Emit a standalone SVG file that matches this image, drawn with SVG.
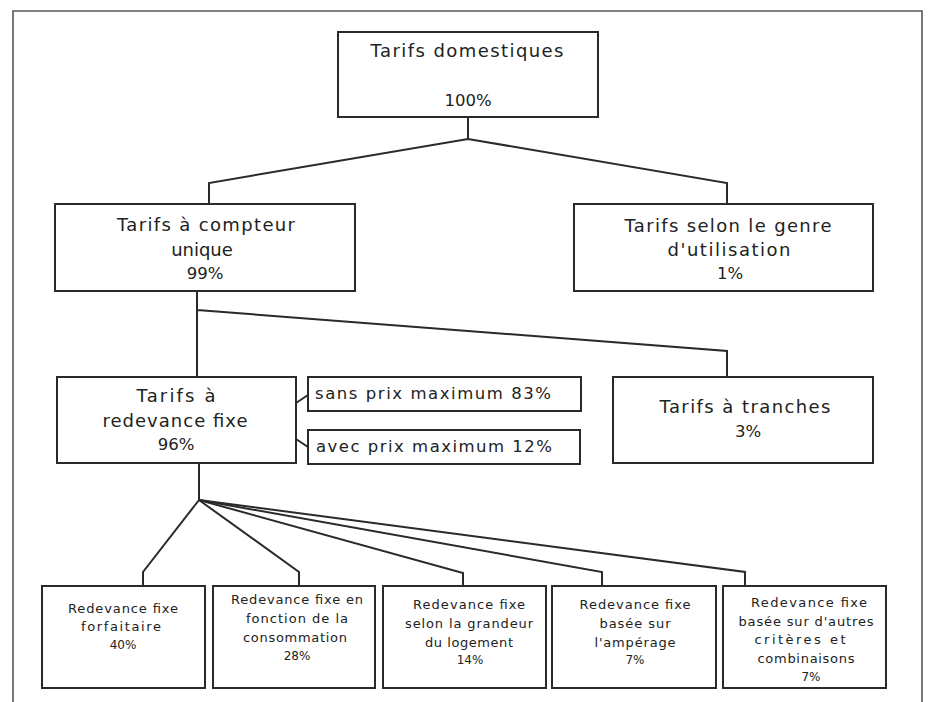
<svg xmlns="http://www.w3.org/2000/svg" width="928" height="702" viewBox="0 0 928 702">
<style>
  .frame { fill: none; stroke: #555; stroke-width: 1.6; }
  .box { fill: #fff; stroke: #2a2a2a; stroke-width: 2; }
  .conn { fill: none; stroke: #2a2a2a; stroke-width: 2; stroke-linejoin: miter; }
  text { font-family: "DejaVu Sans", "Liberation Sans", sans-serif; fill: #222; text-anchor: middle; }
  .lg { font-size: 18px; }
  .md { font-size: 16.5px; text-anchor: start; }
  .sm { font-size: 13px; }
  .pc { font-size: 16.5px; }
  .spc { font-size: 12px; }
</style>
<rect x="0" y="0" width="928" height="702" fill="#fff"/>
<path class="frame" d="M13,712 L13,11 L922,11 L922,712"/>

<g id="connectors">
  <path class="conn" d="M468,117 L468,139 M209,204 L209,183 L468,139 L727,183 L727,204"/>
  <path class="conn" d="M197,291 L197,377 M197,310 L727,351 L727,377"/>
  <path class="conn" d="M296,403 L308,395 M296,439 L308,447"/>
  <path class="conn" d="M199,463 L199,500"/>
  <path class="conn" d="M143,586 L143,572 L199,500 L299,572 L299,586"/>
  <path class="conn" d="M199,500 L463,573 L463,586"/>
  <path class="conn" d="M199,500 L602,572 L602,586"/>
  <path class="conn" d="M199,500 L745,572 L745,586"/>
</g>

<g id="n-domestiques">
  <rect class="box" x="338" y="32" width="260" height="85"/>
  <text class="lg" x="467" y="57" textLength="193">Tarifs domestiques</text>
  <text class="pc" x="468" y="106">100%</text>
</g>

<g id="n-compteur">
  <rect class="box" x="55" y="204" width="300" height="87"/>
  <text class="lg" x="206" y="231" textLength="178">Tarifs à compteur</text>
  <text class="lg" x="202" y="256">unique</text>
  <text class="pc" x="205" y="279">99%</text>
</g>

<g id="n-genre">
  <rect class="box" x="574" y="204" width="299" height="87"/>
  <text class="lg" x="728" y="232" textLength="207">Tarifs selon le genre</text>
  <text class="lg" x="729" y="256" textLength="123">d'utilisation</text>
  <text class="pc" x="730" y="279">1%</text>
</g>

<g id="n-redevance">
  <rect class="box" x="57" y="377" width="239" height="86"/>
  <text class="lg" x="176" y="402" textLength="79">Tarifs à</text>
  <text class="lg" x="175" y="427" textLength="145">redevance fixe</text>
  <text class="pc" x="176" y="450">96%</text>
</g>

<g id="n-sans">
  <rect class="box" x="308" y="377" width="273" height="34"/>
  <text class="md" x="315" y="399" textLength="236">sans prix maximum 83%</text>
</g>

<g id="n-avec">
  <rect class="box" x="308" y="430" width="272" height="34"/>
  <text class="md" x="316" y="452" textLength="236">avec prix maximum 12%</text>
</g>

<g id="n-tranches">
  <rect class="box" x="613" y="377" width="260" height="86"/>
  <text class="lg" x="745" y="413" textLength="171">Tarifs à tranches</text>
  <text class="pc" x="748" y="437">3%</text>
</g>

<g id="n-forfaitaire">
  <rect class="box" x="42" y="586" width="163" height="102"/>
  <text class="sm" x="123" y="613" textLength="110">Redevance fixe</text>
  <text class="sm" x="121" y="631" textLength="80">forfaitaire</text>
  <text class="spc" x="123" y="649">40%</text>
</g>

<g id="n-consommation">
  <rect class="box" x="213" y="586" width="162" height="102"/>
  <text class="sm" x="297" y="604" textLength="132">Redevance fixe en</text>
  <text class="sm" x="297" y="623" textLength="102">fonction de la</text>
  <text class="sm" x="295" y="642" textLength="104">consommation</text>
  <text class="spc" x="297" y="660">28%</text>
</g>

<g id="n-logement">
  <rect class="box" x="383" y="586" width="163" height="102"/>
  <text class="sm" x="469" y="609" textLength="112">Redevance fixe</text>
  <text class="sm" x="469" y="628" textLength="128">selon la grandeur</text>
  <text class="sm" x="469" y="647" textLength="88">du logement</text>
  <text class="spc" x="470" y="664">14%</text>
</g>

<g id="n-amperage">
  <rect class="box" x="552" y="586" width="164" height="102"/>
  <text class="sm" x="635" y="609" textLength="111">Redevance fixe</text>
  <text class="sm" x="635" y="628" textLength="71">basée sur</text>
  <text class="sm" x="635" y="647" textLength="81">l'ampérage</text>
  <text class="spc" x="635" y="664">7%</text>
</g>

<g id="n-autres">
  <rect class="box" x="723" y="586" width="163" height="102"/>
  <text class="sm" x="809" y="607" textLength="116">Redevance fixe</text>
  <text class="sm" x="806" y="626" textLength="135">basée sur d'autres</text>
  <text class="sm" x="800" y="644" textLength="91">critères et</text>
  <text class="sm" x="806" y="663" textLength="97">combinaisons</text>
  <text class="spc" x="811" y="681">7%</text>
</g>
</svg>
